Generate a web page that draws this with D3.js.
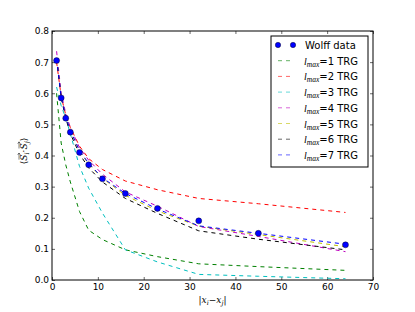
<!DOCTYPE html>
<html>
<head>
<meta charset="utf-8">
<script src="https://cdn.jsdelivr.net/npm/d3@7"></script>
<style>
  body { margin: 0; background: #fff; }
  text { font-family: "DejaVu Sans", sans-serif; }
  .math { font-family: "DejaVu Serif", serif; font-style: italic; }
</style>
</head>
<body>
<svg id="chart"></svg>
<script>
const w = 415, h = 312;
const margin = { top: 31, right: 42, bottom: 32, left: 52 };
const width = w - margin.left - margin.right;
const height = h - margin.top - margin.bottom;

// distances |x_i - x_j|
const dist = [1, 2, 3, 4, 6, 8, 11, 16, 23, 32, 45, 64];
const wolff = [0.705, 0.585, 0.52, 0.475, 0.41, 0.37, 0.325, 0.278, 0.23, 0.19, 0.15, 0.113];
const trg1 = [0.60, 0.44, 0.37, 0.315, 0.22, 0.16, 0.13, 0.097, 0.075, 0.052, 0.043, 0.031];
const trg2 = [0.70, 0.59, 0.53, 0.49, 0.43, 0.39, 0.355, 0.318, 0.29, 0.262, 0.245, 0.217];
const trg3 = [0.62, 0.56, 0.52, 0.47, 0.365, 0.295, 0.215, 0.097, 0.058, 0.018, 0.012, 0.004];
const trg4 = [0.735, 0.60, 0.535, 0.49, 0.425, 0.385, 0.34, 0.283, 0.237, 0.172, 0.14, 0.091];
const trg5 = [0.71, 0.59, 0.525, 0.48, 0.415, 0.372, 0.327, 0.272, 0.222, 0.173, 0.146, 0.107];
const trg6 = [0.71, 0.585, 0.52, 0.47, 0.405, 0.36, 0.315, 0.262, 0.214, 0.158, 0.131, 0.097];
const trg7 = [0.71, 0.59, 0.525, 0.48, 0.415, 0.375, 0.328, 0.278, 0.228, 0.174, 0.15, 0.115];

const series = [
  { n: 1, values: trg1, color: "#008000" },
  { n: 2, values: trg2, color: "#ff0000" },
  { n: 3, values: trg3, color: "#00bfbf" },
  { n: 4, values: trg4, color: "#bf00bf" },
  { n: 5, values: trg5, color: "#bfbf00" },
  { n: 6, values: trg6, color: "#000000" },
  { n: 7, values: trg7, color: "#0000ff" }
];

const xTicks = [0, 10, 20, 30, 40, 50, 60, 70];
const yTicks = [0.0, 0.1, 0.2, 0.3, 0.4, 0.5, 0.6, 0.7, 0.8];

const svg = d3.select('#chart')
  .attr('width', w)
  .attr('height', h);

const chart = svg.append('g')
  .attr('transform', `translate(${margin.left}, ${margin.top})`);

const x = d3.scaleLinear().domain([0, 70]).range([0, width]);
const y = d3.scaleLinear().domain([0, 0.8]).range([height, 0]);

// axes, ticks pointing inward on all sides
const tickLen = 3;
chart.append('g')
  .attr('transform', `translate(0, ${height})`)
  .call(d3.axisBottom(x).tickValues(xTicks).tickSize(-tickLen).tickPadding(4).tickFormat(d3.format('d')));
chart.append('g')
  .call(d3.axisTop(x).tickValues(xTicks).tickSize(-tickLen).tickFormat(''));
chart.append('g')
  .call(d3.axisLeft(y).tickValues(yTicks).tickSize(-tickLen).tickPadding(3).tickFormat(d3.format('.1f')));
chart.append('g')
  .attr('transform', `translate(${width}, 0)`)
  .call(d3.axisRight(y).tickValues(yTicks).tickSize(-tickLen).tickFormat(''));

chart.selectAll('.domain').remove();
chart.selectAll('.tick line').attr('stroke', '#000').attr('stroke-width', 0.6);
chart.selectAll('.tick text').attr('font-size', 9).attr('fill', '#000')
  .attr('font-family', '"DejaVu Sans", sans-serif');

chart.append('rect')
  .attr('width', width)
  .attr('height', height)
  .attr('fill', 'none')
  .attr('stroke', '#000')
  .attr('stroke-width', 1);

// TRG lines
const line = d3.line()
  .x((d, i) => x(dist[i]))
  .y(d => y(d));

chart.append('g').selectAll('path')
  .data(series)
  .enter().append('path')
    .attr('d', d => line(d.values))
    .attr('fill', 'none')
    .attr('stroke', d => d.color)
    .attr('stroke-width', 1)
    .attr('stroke-dasharray', '4,4');

// Wolff points
chart.append('g').selectAll('circle')
  .data(wolff)
  .enter().append('circle')
    .attr('cx', (d, i) => x(dist[i]))
    .attr('cy', d => y(d))
    .attr('r', 3)
    .attr('fill', '#0000ff')
    .attr('stroke', '#000')
    .attr('stroke-width', 0.4);

// axis labels
svg.append('text')
  .attr('class', 'math')
  .attr('x', margin.left + width / 2)
  .attr('y', 303)
  .attr('text-anchor', 'middle')
  .attr('font-size', 9)
  .html('|<tspan>x</tspan><tspan font-size="6.5" dy="2">i</tspan><tspan dy="-2" font-style="normal">−</tspan><tspan>x</tspan><tspan font-size="6.5" dy="2">j</tspan><tspan dy="-2">|</tspan>');

const ylab = svg.append('g').attr('transform', 'translate(27, 151) rotate(-90)');
const ytext = ylab.append('text')
  .attr('class', 'math')
  .attr('text-anchor', 'middle')
  .attr('font-size', 9)
  .html('<tspan font-style="normal">⟨</tspan><tspan>S</tspan><tspan font-size="6.5" dy="2">i</tspan><tspan dy="-2" font-style="normal">·</tspan><tspan>S</tspan><tspan font-size="6.5" dy="2">j</tspan><tspan dy="-2" font-style="normal">⟩</tspan>');
// little vector arrows above both S
const tnode = ytext.node();
const full = tnode.textContent;
[...full].forEach((ch, i) => {
  if (ch !== 'S') return;
  const p = tnode.getStartPositionOfChar(i);
  const e = tnode.getEndPositionOfChar(i);
  const x0 = p.x + 1, x1 = e.x + 1.5, yy = p.y - 8;
  ylab.append('path')
    .attr('d', `M${x0},${yy}H${x1}M${x1 - 1.8},${yy - 1.3}L${x1},${yy}L${x1 - 1.8},${yy + 1.3}`)
    .attr('fill', 'none')
    .attr('stroke', '#000')
    .attr('stroke-width', 0.5);
});

// legend
const legend = svg.append('g').attr('transform', 'translate(271, 36)');
const rowH = 15.7;
legend.append('rect')
  .attr('width', 97)
  .attr('height', 131)
  .attr('fill', '#fff')
  .attr('stroke', '#000')
  .attr('stroke-width', 1);

const wolffRow = legend.append('g').attr('transform', 'translate(0, 9)');
[7, 22].forEach(cx => {
  wolffRow.append('circle')
    .attr('cx', cx).attr('cy', 0).attr('r', 2.7)
    .attr('fill', '#0000ff').attr('stroke', '#000').attr('stroke-width', 0.4);
});
wolffRow.append('text')
  .attr('x', 34).attr('y', 4)
  .attr('font-size', 10)
  .text('Wolff data');

const rows = legend.selectAll('.lrow')
  .data(series)
  .enter().append('g')
    .attr('class', 'lrow')
    .attr('transform', (d, i) => `translate(0, ${9 + rowH * (i + 1)})`);

rows.append('line')
  .attr('x1', 7).attr('x2', 23)
  .attr('stroke', d => d.color)
  .attr('stroke-width', 1)
  .attr('stroke-opacity', 0.6)
  .attr('stroke-dasharray', '4,4');

rows.append('text')
  .attr('x', 33).attr('y', 4)
  .attr('font-size', 10)
  .html(d => `<tspan font-family="Liberation Serif, serif" font-style="italic">l</tspan><tspan font-family="Liberation Serif, serif" font-style="italic" font-size="7.5" dy="2">max</tspan><tspan dy="-2">=${d.n} TRG</tspan>`);
</script>
</body>
</html>
